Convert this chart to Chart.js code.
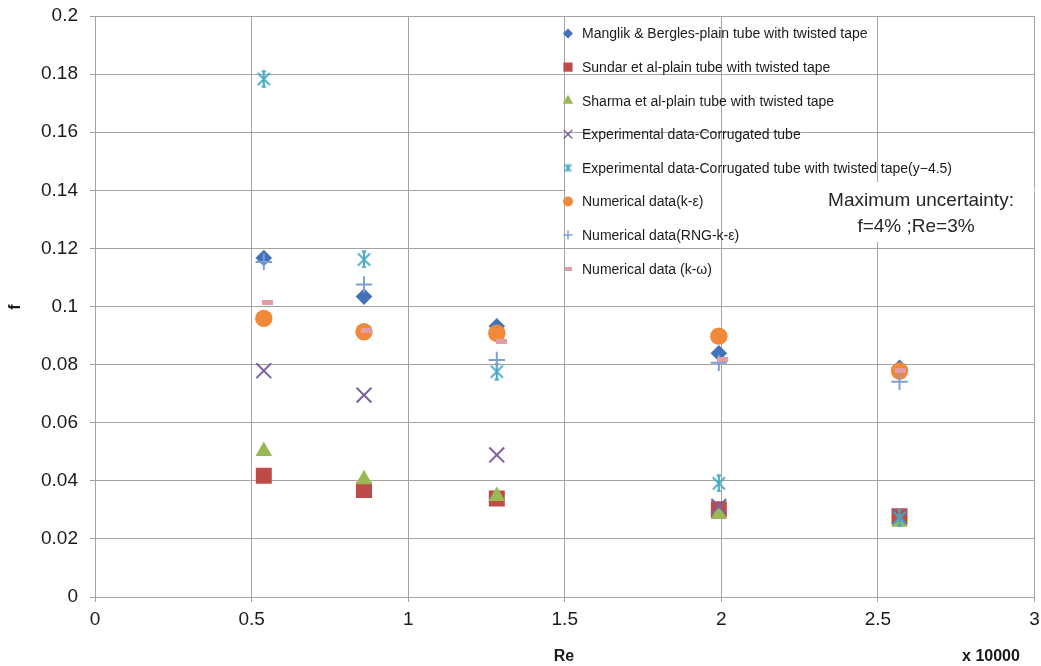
<!DOCTYPE html>
<html>
<head>
<meta charset="utf-8">
<script src="https://cdn.jsdelivr.net/npm/chart.js@4/dist/chart.umd.min.js"></script>
<style>
  html, body { margin: 0; padding: 0; background: #ffffff; overflow: hidden; width: 1041px; height: 666px; }
  canvas { display: block; }
</style>
</head>
<body>
<canvas id="chart" width="1047" height="666"></canvas>
<script>
// Reynolds number (x 10000) at each measured / computed point
const reValues  = [0.539, 0.859, 1.283, 1.992, 2.569];
const reKOmega  = [0.551, 0.867, 1.298, 2.005, 2.572];

// Friction factor f for each data source
const fManglik     = [0.1167, 0.1034, 0.0932, 0.0839, 0.0789];
const fSundar      = [0.0417, 0.0368, 0.0339, 0.0302, 0.0278];
const fSharma      = [0.0502, 0.0405, 0.0347, 0.0285, 0.0258];
const fExpCorr     = [0.0779, 0.0695, 0.0489, 0.0312, 0.0276];
const fExpCorrTape = [0.1783, 0.1162, 0.0776, 0.0391, 0.0272];
const fNumKe       = [0.0959, 0.0913, 0.0908, 0.0898, 0.0778];
const fNumRng      = [0.1153, 0.1076, 0.0816, 0.0806, 0.0741];
const fNumKw       = [0.1014, 0.0916, 0.0879, 0.0818, 0.0781];

const seriesNames = [
  'Manglik & Bergles-plain tube with twisted tape',
  'Sundar et al-plain tube with twisted tape',
  'Sharma et al-plain tube with twisted tape',
  'Experimental data-Corrugated tube',
  'Experimental data-Corrugated tube with twisted tape(y\u22124.5)',
  'Numerical data(k-\u03b5)',
  'Numerical data(RNG-k-\u03b5)',
  'Numerical data (k-\u03c9)'
];

const xTickValues = [0, 0.5, 1, 1.5, 2, 2.5, 3];
const yTickValues = [0, 0.02, 0.04, 0.06, 0.08, 0.1, 0.12, 0.14, 0.16, 0.18, 0.2];

const FONT = '"Liberation Sans", Arial, sans-serif';
const GRID = '#a3a3a3';

// Asterisk marker: an X with a vertical stroke
function makeAsterisk(size, color, lw, caps) {
  const c = document.createElement('canvas');
  c.width = size; c.height = size;
  const g = c.getContext('2d');
  const m = size / 2, r = size / 2 - 1.2;
  const d = r * 0.78;
  g.strokeStyle = color; g.lineWidth = lw; g.lineCap = 'butt';
  g.beginPath();
  g.moveTo(m - d, m - d); g.lineTo(m + d, m + d);
  g.moveTo(m + d, m - d); g.lineTo(m - d, m + d);
  g.moveTo(m, m - r); g.lineTo(m, m + r);
  if (caps) {
    g.moveTo(m - d * 0.35, m - r); g.lineTo(m + d * 0.35, m - r);
    g.moveTo(m - d * 0.35, m + r); g.lineTo(m + d * 0.35, m + r);
  }
  g.stroke();
  return c;
}
// Short bar marker
function makeDash(w, h, color) {
  const c = document.createElement('canvas');
  c.width = w; c.height = h;
  const g = c.getContext('2d');
  g.fillStyle = color; g.fillRect(0, 0, w, h);
  return c;
}

const colors = ['#4472b8', '#be4b48', '#98b954', '#7d60a0', '#46a9c4', '#f0893a', '#7f9ed8', '#e39ba6'];

const asteriskBig = makeAsterisk(18, colors[4], 2, true);
const asteriskSmall = makeAsterisk(11, colors[4], 1.5, false);
const dashBig = makeDash(11, 5, colors[7]);
const dashSmall = makeDash(7, 4, colors[7]);

function pts(xs, ys) { return xs.map((x, i) => ({ x: x, y: ys[i] })); }

const styleDefs = [
  { style: 'rectRot', radius: 8.3, legend: 5, fill: true },
  { style: 'rect', radius: 11.3, legend: 6.5, fill: true },
  { style: 'triangle', radius: 9.6, legend: 6, fill: true },
  { style: 'crossRot', radius: 10.5, legend: 6, fill: false, lw: 2 },
  { style: asteriskBig, radius: 9, legendStyle: asteriskSmall, legend: 5 },
  { style: 'circle', radius: 8.7, legend: 5, fill: true },
  { style: 'cross', radius: 8.2, legend: 4.5, fill: false, lw: 2 },
  { style: dashBig, radius: 6, legendStyle: dashSmall, legend: 4 }
];

const seriesData = [
  pts(reValues, fManglik),
  pts(reValues, fSundar),
  pts(reValues, fSharma),
  pts(reValues, fExpCorr),
  pts(reValues, fExpCorrTape),
  pts(reValues, fNumKe),
  pts(reValues, fNumRng),
  pts(reKOmega, fNumKw)
];

const datasets = seriesData.map((d, i) => ({
  label: seriesNames[i],
  data: d,
  pointStyle: styleDefs[i].style,
  pointRadius: styleDefs[i].radius,
  pointHoverRadius: styleDefs[i].radius,
  backgroundColor: colors[i],
  borderColor: colors[i],
  pointBorderWidth: styleDefs[i].lw || 0,
  showLine: false,
  order: 20 - i   // later series are painted on top
}));

// Gaps in the grid behind the legend panel and the uncertainty note
const gridGapPlugin = {
  id: 'gridGaps',
  beforeDatasetsDraw(chart) {
    const { ctx, scales: { x, y } } = chart;
    ctx.save();
    ctx.fillStyle = '#ffffff';
    const y14 = y.getPixelForValue(0.14);
    const xl = x.getPixelForValue(1.5), xr = x.getPixelForValue(3);
    ctx.fillRect(xl + 1, y14 - 1.5, xr - xl - 1, 3);
    ctx.fillRect(810, 182, xr - 811, 60);
    // the x = 2 grid line keeps running through the legend
    ctx.strokeStyle = GRID; ctx.lineWidth = 1;
    const x2 = Math.round(x.getPixelForValue(2)) + 0.5;
    ctx.beginPath(); ctx.moveTo(x2, y14 - 2); ctx.lineTo(x2, y14 + 2); ctx.stroke();
    ctx.restore();
  }
};

// Legend, uncertainty note and axis titles
const annotatePlugin = {
  id: 'annotate',
  afterDraw(chart) {
    const { ctx } = chart;
    ctx.save();
    const mx = 568, tx = 582, y0 = 33.5, dy = 33.6;
    ctx.font = '14px ' + FONT;
    ctx.fillStyle = '#1a1a1a';
    ctx.textBaseline = 'middle';
    ctx.textAlign = 'left';
    seriesNames.forEach((name, i) => {
      const yy = y0 + i * dy;
      const s = styleDefs[i];
      ctx.save();
      ctx.fillStyle = colors[i];
      ctx.strokeStyle = colors[i];
      ctx.lineWidth = s.lw ? 1.5 : 0;
      Chart.helpers.drawPoint(ctx, {
        pointStyle: s.legendStyle || s.style,
        radius: s.legend,
        rotation: 0,
        borderWidth: s.lw ? 1.5 : 0
      }, mx, yy);
      ctx.restore();
      ctx.fillText(name, tx, yy + 1);
    });

    ctx.font = '19px ' + FONT;
    ctx.textAlign = 'center';
    ctx.fillStyle = '#262626';
    ctx.fillText('Maximum uncertainty:', 921, 201);
    ctx.fillText('f=4% ;Re=3%', 916, 227);

    ctx.font = 'bold 16px ' + FONT;
    ctx.fillStyle = '#1a1a1a';
    ctx.fillText('Re', 564, 657);
    ctx.fillText('x 10000', 991, 657);
    ctx.translate(16, 307);
    ctx.rotate(-Math.PI / 2);
    ctx.fillText('f', 0, 0);
    ctx.restore();
  }
};

const tickText = v => String(Number(v.toFixed(4)));

new Chart(document.getElementById('chart'), {
  type: 'scatter',
  data: { datasets: datasets },
  options: {
    responsive: false,
    animation: false,
    events: [],
    layout: { padding: { left: 0, right: 1, top: 16, bottom: 0 } },
    plugins: {
      legend: { display: false },
      tooltip: { enabled: false }
    },
    scales: {
      x: {
        type: 'linear',
        min: 0, max: 3,
        afterBuildTicks(scale) { scale.ticks = xTickValues.map(v => ({ value: v })); },
        afterFit(scale) {
          scale.height = 69;
          scale.paddingLeft = 0; scale.paddingRight = 0;
        },
        grid: { color: GRID, lineWidth: 1, tickLength: 5, drawTicks: true, tickColor: GRID },
        border: { color: GRID, width: 1 },
        ticks: { color: '#1a1a1a', font: { family: FONT, size: 19 }, padding: 6, maxRotation: 0, callback: tickText }
      },
      y: {
        type: 'linear',
        min: 0, max: 0.2,
        afterBuildTicks(scale) { scale.ticks = yTickValues.map(v => ({ value: v })); },
        afterFit(scale) {
          scale.width = 95;
          scale.paddingTop = 0; scale.paddingBottom = 0;
          scale.paddingLeft = 0; scale.paddingRight = 0;
        },
        grid: { color: GRID, lineWidth: 1, tickLength: 5, drawTicks: true, tickColor: GRID },
        border: { color: GRID, width: 1 },
        ticks: { color: '#1a1a1a', font: { family: FONT, size: 19 }, padding: 12, callback: tickText }
      }
    }
  },
  plugins: [gridGapPlugin, annotatePlugin]
});
</script>
</body>
</html>
